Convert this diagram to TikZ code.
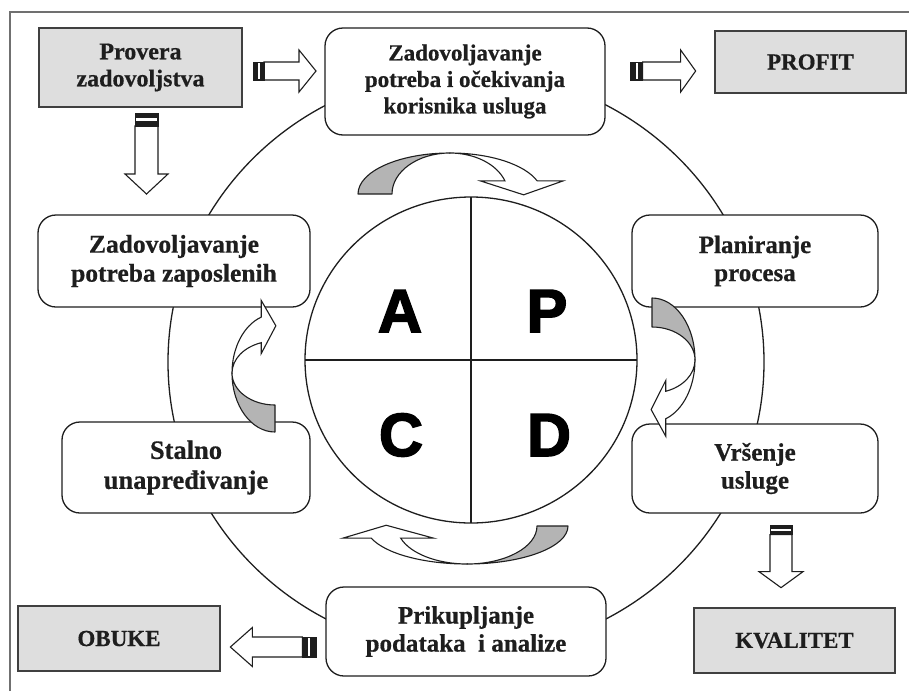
\documentclass[tikz,border=0pt]{standalone}
\usepackage{fontspec}
\setmainfont{Liberation Serif}[BoldFeatures={FakeBold=0.6}]
\newfontfamily\letterfont{Liberation Sans}[BoldFeatures={FakeBold=2.5}]
\usetikzlibrary{calc}
\definecolor{boxgray}{HTML}{DEDEDE}
\definecolor{arrgray}{HTML}{B4B4B4}
\definecolor{framegray}{HTML}{707070}
\definecolor{ink}{HTML}{1E1E1E}

% straight hollow block arrow with striped tail: coord, rotation, length, tail, head length, shaft half width, head half width
\newcommand\blockarr[7]{%
 \begin{scope}[shift={(#1)}, rotate=#2]
  \draw[ink, line width=1.1pt, fill=white, line join=miter] (#4,{-#6}) -- ({#3-#5},{-#6}) -- ({#3-#5},{-#7}) -- (#3,0) -- ({#3-#5},#7) -- ({#3-#5},#6) -- (#4,#6) -- cycle;
  \filldraw[ink, line width=0.8pt] (0,{-#6}) rectangle (#4,#6);
  \fill[white] ({0.42*#4},{-#6+1.2}) rectangle ({0.62*#4},{#6-1.2});
 \end{scope}}

% curved twisted arrow: base centre, rotation, outer radius, inner radius, height
\newcommand\curvarr[5]{%
 \begin{scope}[shift={(#1)}, rotate=#2]
  \filldraw[fill=arrgray, draw=ink, line width=1.1pt, line join=round] (0,{-#5}) arc[start angle=90, end angle=180, x radius=#3pt, y radius=#5pt] -- ({-#4},0) arc[start angle=180, end angle=90, x radius=#4pt, y radius=#5pt] -- cycle;
  \filldraw[fill=white, draw=ink, line width=1.1pt, line join=miter] (0,{-#5}) arc[start angle=90, end angle=18.7, x radius=#3pt, y radius=#5pt] -- ({1.23*#3},{-0.32*#5}) -- ({0.8*#3},{0.02*#5}) -- ({0.33*#3},{-0.32*#5}) -- ({0.947*#4},{-0.32*#5}) arc[start angle=18.7, end angle=90, x radius=#4pt, y radius=#5pt] -- cycle;
 \end{scope}}

\tikzset{
  rbox/.style={draw=ink, line width=1.3pt, fill=white, rounded corners=18pt, align=center,
    font=\fontsize{25}{28}\selectfont\bfseries, text=ink, inner sep=0pt},
  gbox/.style={draw=ink!85, line width=2pt, fill=boxgray, align=center,
    font=\fontsize{23}{27}\selectfont\bfseries, text=ink, inner sep=0pt},
  bigletter/.style={font=\letterfont\bfseries\fontsize{61}{61}\selectfont, text=black, anchor=base, inner sep=0pt},
  ring/.style={draw=ink, line width=1.3pt}
}

\begin{document}
\begin{tikzpicture}[x=1pt, y=-1pt]
\useasboundingbox (0,0) rectangle (909,691);
\fill[white] (0,0) rectangle (909,691);
% frame
\draw[framegray, line width=1.5pt] (10,691) -- (10,12) -- (909,12);

% outer ring and inner PDCA circle
\draw[ring] (466,362) ellipse [x radius=298pt, y radius=291pt];
\draw[ring] (471,360) ellipse [x radius=166pt, y radius=163pt];
\coordinate (cc) at (471,360);
\draw[ring] (305,360) -- (637,360);
\draw[ring] (471,197) -- (471,523);

\node[bigletter] (A) at (400,332) {A};
\node[bigletter] (P) at (547,332) {P};
\node[bigletter] (C) at (401,456) {C};
\node[bigletter] (D) at (549,456) {D};

% boxes
\node[gbox, minimum width=203pt, minimum height=79pt, font=\fontsize{24}{27}\selectfont\bfseries] (prov) at (140.5,67.5) {Provera\\zadovoljstva};
\node[rbox, minimum width=280pt, minimum height=107pt, font=\fontsize{23}{26.5}\selectfont\bfseries] (zad) at (465,81.5) {Zadovoljavanje\\potreba i očekivanja\\korisnika usluga};
\node[gbox, minimum width=191pt, minimum height=62pt] (profit) at (810.5,62) {PROFIT};
\node[rbox, minimum width=272pt, minimum height=92pt, font=\fontsize{25.5}{29}\selectfont\bfseries] (zap) at (174,261) {Zadovoljavanje\\potreba zaposlenih};
\node[rbox, minimum width=246pt, minimum height=92pt] (plan) at (755,261) {Planiranje\\procesa};
\node[rbox, minimum width=248pt, minimum height=91pt, font=\fontsize{26.5}{30}\selectfont\bfseries] (stal) at (186,467.5) {Stalno\\unapređivanje};
\node[rbox, minimum width=246pt, minimum height=89pt] (vrs) at (755,468.5) {Vršenje\\usluge};
\node[rbox, minimum width=280pt, minimum height=89pt] (prik) at (466,631.5) {Prikupljanje\\podataka \ i analize};
\node[gbox, minimum width=202pt, minimum height=65pt] (obuke) at (119,638.5) {OBUKE};
\node[gbox, minimum width=201pt, minimum height=65pt] (kval) at (794.5,640.5) {KVALITET};

% straight block arrows (anchored on the boxes)
\coordinate (t1) at ($(prov.east)+(10,3.5)$);
\coordinate (t2) at ($(zad.east)+(25,-10.5)$);
\coordinate (t3) at ($(prov.south)+(6,5)$);
\coordinate (t4) at ($(vrs.south)+(26,12)$);
\coordinate (t5) at ($(prik.west)+(-9,15.5)$);
\blockarr{t1}{0}{63}{11}{17}{9}{21}
\blockarr{t2}{0}{65}{12}{15}{9}{21}
\blockarr{t3}{-90}{81}{13}{20}{11.5}{21.5}
\blockarr{t4}{-90}{62}{9}{16}{11}{22}
\blockarr{t5}{180}{86}{14}{22}{10}{19.5}

% curved PDCA arrows
\coordinate (c1) at (450,194);
\coordinate (c2) at (652,360);
\coordinate (c3) at (467,526);
\coordinate (c4) at (275,373);
\curvarr{c1}{0}{92}{58}{41}
\curvarr{c2}{-90}{62}{33}{43}
\curvarr{c3}{180}{101}{70}{38}
\curvarr{c4}{90}{59}{32}{43}
\end{tikzpicture}
\end{document}
